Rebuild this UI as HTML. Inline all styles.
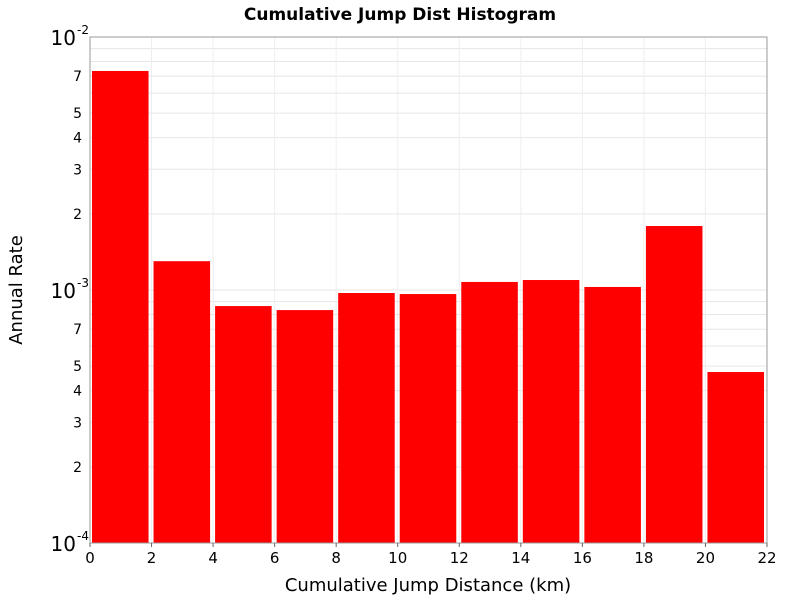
<!DOCTYPE html>
<html><head><meta charset="utf-8"><style>
body{margin:0;background:#fff;font-family:"Liberation Sans","DejaVu Sans",sans-serif}
</style></head><body>
<svg id="chart" width="800" height="600" xmlns="http://www.w3.org/2000/svg" font-family="DejaVu Sans, Liberation Sans, sans-serif">
<text x="400" y="20" text-anchor="middle" font-size="17" font-weight="bold">Cumulative Jump Dist Histogram</text>
<g id="grid"></g><g id="bars"></g><g id="axes"></g>
<text x="428" y="591" text-anchor="middle" font-size="18">Cumulative Jump Distance (km)</text>
<text transform="translate(22,290) rotate(-90)" text-anchor="middle" font-size="18">Annual Rate</text>
</svg>
<script>
const binStarts=[0,2,4,6,8,10,12,14,16,18,20];
const binWidth=2;
const rates=[7.34e-3,1.30e-3,8.64e-4,8.33e-4,9.73e-4,9.64e-4,1.076e-3,1.095e-3,1.028e-3,1.79e-3,4.74e-4];
const xTicks=[0,2,4,6,8,10,12,14,16,18,20,22];
const minorLabels=[2,3,4,5,7];
const L=90,R=767,T=37,B=543,xMin=0,xMax=22,yMinExp=-4,yMaxExp=-2;
const ns="http://www.w3.org/2000/svg";
const xs=v=>L+(v-xMin)/(xMax-xMin)*(R-L);
const ys=v=>B-(Math.log10(v)-yMinExp)/(yMaxExp-yMinExp)*(B-T);
function mk(tag,attrs,parent,text){const e=document.createElementNS(ns,tag);for(const k in attrs)e.setAttribute(k,attrs[k]);if(text!==undefined)e.textContent=text;document.getElementById(parent).appendChild(e);return e;}
// grid
for(let e=yMinExp;e<yMaxExp;e++){for(let m=1;m<10;m++){const v=m*Math.pow(10,e);if(m===1&&e===yMinExp)continue;const y=ys(v);
const g=mk('line',{x1:L,x2:R,y1:y,y2:y,stroke:'#e6e6e6','stroke-width':1},'grid');

}}
xTicks.forEach(t=>{const x=xs(t);const g=mk('line',{x1:x,x2:x,y1:T,y2:B,stroke:'#eeeeee','stroke-width':1},'grid');

});
// bars
binStarts.forEach((s,i)=>{const x0=xs(s),x1=xs(s+binWidth),y=ys(rates[i]);
const r=mk('rect',{x:x0+2,y:y,width:x1-x0-5,height:B-y,fill:'#ff0000'},'bars');

});
// frame
const f=mk('rect',{x:L,y:T,width:R-L,height:B-T,fill:'none',stroke:'#999','stroke-width':1},'axes');


xTicks.forEach(t=>{const x=xs(t);
const tk=mk('line',{x1:x,x2:x,y1:B,y2:B+4,stroke:'#666'},'axes');


const l=mk('text',{x:x,y:B+20,'text-anchor':'middle','font-size':15},'axes',String(t));

});
for(let e=yMinExp;e<=yMaxExp;e++){const y=ys(Math.pow(10,e));
const l=mk('text',{x:76,y:y+8,'text-anchor':'end','font-size':20},'axes','10');


const s=mk('text',{x:77,y:y-3,'font-size':12},'axes',String(e));


if(e<yMaxExp){minorLabels.forEach(m=>{const yy=ys(m*Math.pow(10,e));
const ml=mk('text',{x:82,y:yy+5,'text-anchor':'end','font-size':14},'axes',String(m));

});}}
</script>
</body></html>
